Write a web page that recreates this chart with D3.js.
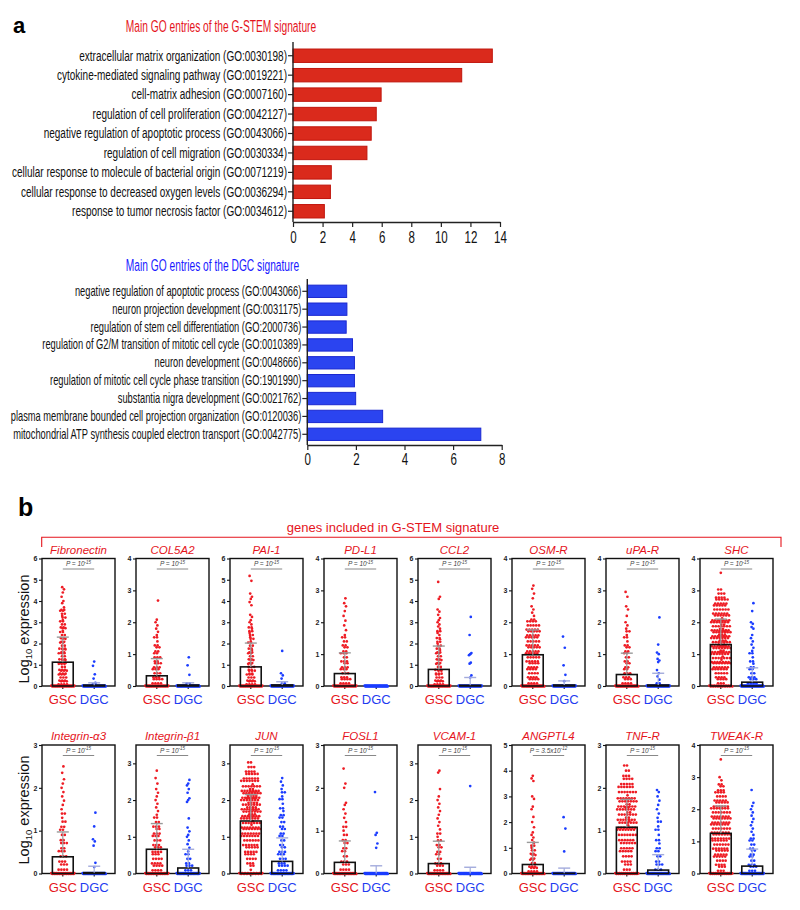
<!DOCTYPE html>
<html><head><meta charset="utf-8">
<script src="https://cdn.jsdelivr.net/npm/d3@7/dist/d3.min.js"></script>
<style>body{margin:0;background:#fff} svg{display:block;font-family:"Liberation Sans",Arial,Helvetica,sans-serif}</style>
</head><body><svg id="c" width="800" height="910"></svg>
<script>
// ---------------- DATA ----------------
const goStemTerms = [
  "extracellular matrix organization (GO:0030198)",
  "cytokine-mediated signaling pathway (GO:0019221)",
  "cell-matrix adhesion (GO:0007160)",
  "regulation of cell proliferation (GO:0042127)",
  "negative regulation of apoptotic process (GO:0043066)",
  "regulation of cell migration (GO:0030334)",
  "cellular response to molecule of bacterial origin (GO:0071219)",
  "cellular response to decreased oxygen levels (GO:0036294)",
  "response to tumor necrosis factor (GO:0034612)"];
const goStemValues = [13.48, 11.41, 5.96, 5.63, 5.29, 5.0, 2.59, 2.53, 2.12];
const goStemTicks = [0, 2, 4, 6, 8, 10, 12, 14];

const goDgcTerms = [
  "negative regulation of apoptotic process (GO:0043066)",
  "neuron projection development (GO:0031175)",
  "regulation of stem cell differentiation (GO:2000736)",
  "regulation of G2/M transition of mitotic cell cycle (GO:0010389)",
  "neuron development (GO:0048666)",
  "regulation of mitotic cell cycle phase transition (GO:1901990)",
  "substantia nigra development (GO:0021762)",
  "plasma membrane bounded cell projection organization (GO:0120036)",
  "mitochondrial ATP synthesis coupled electron transport (GO:0042775)"];
const goDgcValues = [1.62, 1.63, 1.6, 1.86, 1.94, 1.94, 1.99, 3.1, 7.14];
const goDgcTicks = [0, 2, 4, 6, 8];

const genes = ["Fibronectin","COL5A2","PAI-1","PD-L1","CCL2","OSM-R","uPA-R","SHC",
  "Integrin-\u03b13","Integrin-\u03b21","JUN","FOSL1","VCAM-1","ANGPTL4","TNF-R","TWEAK-R"];
const geneYMax = [6,4,6,4,6,4,4,4, 3,3.5,3.5,3,3.5,5,3,4];
const pBase = ["P = 10","P = 10","P = 10","P = 10","P = 10","P = 10","P = 10","P = 10",
  "P = 10","P = 10","P = 10","P = 10","P = 10","P = 3.5x10","P = 10","P = 10"];
const pExp = ["-15","-15","-15","-15","-15","-15","-15","-15","-15","-15","-15","-15","-15","-12","-15","-15"];
const groups = ["GSC","DGC"];

const gscMean = [1.12,0.32,0.90,0.39,0.78,0.98,0.36,1.30, 0.39,0.66,1.43,0.26,0.27,0.35,1.08,1.25];
const gscSD   = [1.18,0.54,1.12,0.65,1.10,0.78,0.67,0.80, 0.58,0.70,0.72,0.50,0.61,0.86,0.65,0.85];
const dgcMean = [0.04,0.03,0.05,0.0,0.03,0.03,0.03,0.12, 0.02,0.15,0.33,0.0,0.0,0.01,0.08,0.23];
const dgcSD   = [0.11,0.07,0.15,0.0,0.37,0.13,0.37,0.45, 0.15,0.51,0.64,0.18,0.17,0.20,0.36,0.53];

// points: [log10 value, number of cells]
const gscPoints = [
  [[0,40],[0.1,4],[0.2,3],[0.3,3],[0.4,3],[0.5,3],[0.6,3],[0.7,3],[0.8,3],[0.9,2],[1.0,3],[1.1,3],[1.2,2],[1.3,3],[1.4,2],[1.5,3],[1.6,2],[1.7,2],[1.8,3],[1.9,2],[2.0,2],[2.1,2],[2.2,2],[2.3,2],[2.4,2],[2.5,2],[2.6,1],[2.7,2],[2.8,2],[2.9,2],[3.0,2],[3.1,1],[3.2,2],[3.3,1],[3.4,2],[3.5,2],[3.6,2],[3.7,1],[3.9,1],[4.0,1],[4.2,1],[4.4,1],[4.55,1],[4.65,1]],
  [[0,40],[0.1,4],[0.2,4],[0.3,3],[0.4,3],[0.5,3],[0.6,3],[0.7,3],[0.8,2],[0.9,3],[1.0,2],[1.1,2],[1.2,2],[1.3,2],[1.4,1],[1.5,2],[1.6,1],[1.7,1],[1.8,1],[1.9,1],[2.0,1],[2.08,1],[2.68,1]],
  [[0,40],[0.1,4],[0.2,3],[0.3,3],[0.4,3],[0.5,3],[0.6,2],[0.7,3],[0.8,2],[0.9,3],[1.0,2],[1.1,2],[1.2,2],[1.3,2],[1.4,2],[1.5,2],[1.6,2],[1.7,1],[1.8,2],[1.9,2],[2.0,2],[2.1,1],[2.2,2],[2.3,1],[2.4,2],[2.5,1],[2.6,2],[2.7,1],[2.8,2],[2.9,1],[3.0,1],[3.1,1],[3.25,1],[3.35,1],[3.8,1],[3.95,1],[4.1,1],[4.2,1],[4.35,1],[4.95,1],[5.18,1]],
  [[0,40],[0.1,4],[0.2,4],[0.3,3],[0.4,3],[0.5,3],[0.6,3],[0.7,2],[0.8,3],[0.9,2],[1.0,3],[1.1,2],[1.2,2],[1.3,2],[1.4,2],[1.5,2],[1.6,1],[1.75,1],[1.9,1],[2.05,1],[2.2,1],[2.35,1],[2.5,1],[2.6,1],[2.75,1]],
  [[0,40],[0.1,4],[0.2,3],[0.3,3],[0.4,3],[0.5,2],[0.6,3],[0.7,2],[0.8,3],[0.9,2],[1.0,2],[1.1,2],[1.2,2],[1.3,2],[1.4,2],[1.5,2],[1.6,2],[1.7,1],[1.8,2],[1.9,2],[2.0,1],[2.1,2],[2.2,1],[2.3,2],[2.4,1],[2.5,1],[2.6,2],[2.7,1],[2.8,1],[2.9,1],[3.0,1],[3.1,1],[3.2,1],[3.35,1],[3.5,1],[3.6,1],[4.1,1],[4.2,1],[4.9,1]],
  [[0,45],[0.1,4],[0.2,4],[0.3,4],[0.4,4],[0.5,4],[0.6,4],[0.7,4],[0.8,5],[0.9,5],[1.0,5],[1.1,5],[1.2,5],[1.3,5],[1.4,5],[1.5,5],[1.6,5],[1.7,5],[1.8,5],[1.9,5],[2.0,4],[2.1,2],[2.2,1],[2.3,1],[2.4,1],[2.5,1],[2.75,1],[2.9,1],[3.05,1],[3.15,1]],
  [[0,45],[0.1,4],[0.2,3],[0.3,3],[0.4,3],[0.5,2],[0.6,2],[0.7,2],[0.8,2],[0.9,2],[1.0,2],[1.1,2],[1.2,2],[1.3,2],[1.4,1],[1.5,2],[1.6,1],[1.7,2],[1.8,1],[1.9,1],[2.0,1],[2.2,1],[2.4,1],[2.5,1],[2.8,1],[2.95,1]],
  [[0,30],[0.1,3],[0.2,4],[0.3,4],[0.4,5],[0.5,6],[0.6,6],[0.7,7],[0.8,8],[0.9,8],[1.0,9],[1.1,9],[1.2,10],[1.3,10],[1.4,10],[1.5,10],[1.6,10],[1.7,10],[1.8,9],[1.9,9],[2.0,9],[2.1,8],[2.2,6],[2.3,6],[2.4,6],[2.5,5],[2.6,5],[2.7,5],[2.8,4],[2.9,3],[3.0,2],[3.55,1]],
  [[0,40],[0.1,4],[0.2,3],[0.3,3],[0.4,3],[0.5,3],[0.6,2],[0.7,3],[0.8,2],[0.9,2],[1.0,2],[1.1,2],[1.2,2],[1.3,1],[1.4,2],[1.5,1],[1.6,1],[1.7,1],[1.8,1],[1.9,1],[2.0,1],[2.1,1],[2.2,1],[2.35,1],[2.5,1]],
  [[0,40],[0.1,4],[0.2,4],[0.3,4],[0.4,4],[0.5,3],[0.6,4],[0.7,3],[0.8,3],[0.9,3],[1.0,3],[1.1,3],[1.2,2],[1.3,3],[1.4,2],[1.5,2],[1.6,1],[1.7,1],[1.8,1],[1.9,1],[2.0,1],[2.1,1],[2.2,1],[2.3,1],[2.45,1],[2.6,1],[2.8,1]],
  [[0,25],[0.1,1],[0.2,2],[0.3,3],[0.4,4],[0.5,4],[0.6,5],[0.7,5],[0.8,6],[0.9,6],[1.0,7],[1.1,7],[1.2,7],[1.3,8],[1.4,8],[1.5,9],[1.6,10],[1.7,10],[1.8,11],[1.9,11],[2.0,11],[2.1,11],[2.2,10],[2.3,9],[2.4,8],[2.5,7],[2.6,6],[2.7,5],[2.8,4],[2.9,3],[3.0,2]],
  [[0,45],[0.1,4],[0.2,3],[0.3,3],[0.4,2],[0.5,2],[0.6,2],[0.7,2],[0.8,2],[0.9,2],[1.0,1],[1.1,2],[1.2,1],[1.3,1],[1.4,1],[1.5,1],[1.6,1],[1.65,1],[2.0,1],[2.1,1],[2.45,1]],
  [[0,45],[0.1,4],[0.2,3],[0.3,3],[0.4,2],[0.5,2],[0.6,2],[0.7,2],[0.8,2],[0.9,2],[1.0,1],[1.1,2],[1.2,1],[1.3,1],[1.4,1],[1.5,1],[1.6,1],[1.7,1],[1.8,1],[1.9,1],[2.0,1],[2.1,1],[2.3,1],[2.75,1],[2.8,1]],
  [[0,45],[0.1,4],[0.2,3],[0.3,3],[0.4,2],[0.5,2],[0.6,2],[0.7,2],[0.8,2],[0.9,2],[1.0,1],[1.1,2],[1.2,1],[1.3,1],[1.4,1],[1.5,1],[1.6,1],[1.8,1],[2.0,1],[2.2,1],[2.5,1],[2.6,1],[2.9,1],[3.0,1],[3.6,1],[3.7,1],[3.8,1]],
  [[0,35],[0.1,3],[0.2,3],[0.3,4],[0.4,4],[0.5,5],[0.6,5],[0.7,6],[0.8,6],[0.9,7],[1.0,7],[1.1,8],[1.2,8],[1.3,9],[1.4,9],[1.5,9],[1.6,9],[1.7,9],[1.8,8],[1.9,7],[2.0,6],[2.1,5],[2.2,4],[2.3,3],[2.4,2],[2.5,2]],
  [[0,35],[0.1,3],[0.2,3],[0.3,4],[0.4,4],[0.5,5],[0.6,5],[0.7,5],[0.8,6],[0.9,6],[1.0,6],[1.1,7],[1.2,7],[1.3,7],[1.4,7],[1.5,7],[1.6,7],[1.7,7],[1.8,7],[1.9,7],[2.0,7],[2.1,6],[2.2,5],[2.3,5],[2.4,4],[2.5,4],[2.6,3],[2.7,2],[2.8,2],[2.9,1],[3.0,1],[3.55,1]]
];
const dgcPoints = [
  [[0,60],[0.1,2],[0.15,1],[0.35,1],[0.55,1],[0.95,1],[1.15,1]],
  [[0,60],[0.1,2],[0.35,1],[0.65,1],[0.9,1]],
  [[0,55],[0.05,3],[0.1,2],[0.35,1],[0.5,1],[0.6,1],[1.65,1]],
  [[0,60]],
  [[0,55],[0.4,1],[0.5,1],[1.05,1],[1.1,1],[1.45,1],[1.5,1],[1.55,1],[2.4,1],[3.25,1]],
  [[0,55],[0.15,1],[0.35,1],[0.65,1],[1.2,1],[1.55,1]],
  [[0,55],[0.1,2],[0.2,1],[0.3,1],[0.4,1],[0.5,1],[0.75,1],[0.8,1],[0.85,1],[1.0,1],[1.05,1],[1.3,1],[2.15,1]],
  [[0,60],[0.1,4],[0.2,3],[0.3,3],[0.4,2],[0.5,2],[0.6,2],[0.7,1],[0.8,2],[0.9,1],[1.0,2],[1.1,1],[1.2,1],[1.3,1],[1.4,1],[1.5,1],[1.6,1],[1.8,1],[1.85,1],[1.95,1],[2.0,1],[2.35,1],[2.6,1]],
  [[0,60],[0.15,1],[0.25,1],[0.65,1],[0.75,1],[0.8,1],[1.1,1],[1.42,1]],
  [[0,50],[0.1,3],[0.2,3],[0.3,2],[0.4,2],[0.5,2],[0.6,1],[0.7,1],[0.8,1],[0.9,1],[1.0,1],[1.05,1],[1.15,1],[1.25,1],[1.5,1],[1.95,1],[2.0,1],[2.05,1],[2.2,1],[2.3,1],[2.4,1],[2.45,1],[2.55,1]],
  [[0,50],[0.1,4],[0.2,4],[0.3,3],[0.4,3],[0.5,3],[0.6,3],[0.7,2],[0.8,2],[0.9,2],[1.0,2],[1.1,2],[1.2,2],[1.3,2],[1.4,2],[1.5,2],[1.6,2],[1.7,1],[1.8,2],[1.9,1],[2.0,2],[2.1,1],[2.2,2],[2.3,1],[2.4,1],[2.5,1],[2.6,1]],
  [[0,60],[0.6,1],[0.7,1],[0.9,1],[0.95,1],[1.9,1]],
  [[0,60],[2.38,1]],
  [[0,60],[0.86,1],[1.75,1],[2.19,1]],
  [[0,60],[0.1,3],[0.2,3],[0.3,2],[0.4,2],[0.5,2],[0.6,2],[0.7,1],[0.8,2],[0.9,1],[1.0,2],[1.1,1],[1.2,2],[1.3,1],[1.4,1],[1.5,1],[1.6,1],[1.7,1],[1.8,1],[1.9,1],[1.95,1]],
  [[0,55],[0.1,3],[0.2,3],[0.3,3],[0.4,2],[0.5,2],[0.6,2],[0.7,2],[0.8,2],[0.9,2],[1.0,2],[1.1,2],[1.2,1],[1.3,1],[1.4,1],[1.5,1],[1.6,1],[1.7,1],[1.8,1],[1.9,1],[2.0,1],[2.1,1],[2.2,1],[2.6,1]]
];

// ---------------- DRAWING ----------------
const svg = d3.select("#c");
const RED_T = "#e5141c", BLUE_T = "#1a1aff";

svg.append("text").attr("x", 13).attr("y", 33).attr("font-size", 22).attr("font-weight", "bold").text("a");

function goChart(terms, values, ticks, o) {
  const g = svg.append("g");
  const x = d3.scaleLinear([0, ticks[ticks.length - 1]], [o.x0, o.x1]);
  const y = d3.scaleBand(terms, [o.y0, o.y1]).paddingInner(0.31).paddingOuter(0.31);
  g.append("g").attr("transform", `translate(${o.titleX},${o.titleY}) scale(0.62,1)`)
    .append("text").attr("text-anchor", "middle").attr("font-size", 16.5).attr("fill", o.titleColor).text(o.title);
  g.selectAll("rect.bar").data(values).join("rect").attr("class", "bar")
    .attr("x", x(0)).attr("y", (d, i) => y(terms[i]))
    .attr("width", d => x(d) - x(0)).attr("height", y.bandwidth())
    .attr("fill", o.fill).attr("stroke", o.stroke).attr("stroke-width", 1);
  const ya = d3.axisLeft(y).tickSize(5).tickPadding(1).tickSizeOuter(0);
  const yg = g.append("g").attr("transform", `translate(${x(0)},0)`).call(ya);
  yg.select(".domain").remove();
  yg.selectAll(".tick line").attr("stroke", "#222").attr("stroke-width", 1.2);
  yg.selectAll(".tick text").attr("font-size", o.labelSize).attr("fill", "#111").attr("font-family", null)
    .attr("transform", `scale(${o.cond},1)`).attr("x", -6 / o.cond);
  g.append("line").attr("x1", x(0)).attr("x2", x(0)).attr("y1", o.axisTop).attr("y2", o.axisY)
    .attr("stroke", "#222").attr("stroke-width", 1.4);
  const xa = d3.axisBottom(x).tickValues(ticks).tickSize(5).tickPadding(o.tickPad).tickSizeOuter(0);
  const xg = g.append("g").attr("transform", `translate(0,${o.axisY})`).call(xa);
  xg.select(".domain").attr("stroke", "#222").attr("stroke-width", 1.4);
  xg.selectAll(".tick line").attr("stroke", "#222").attr("stroke-width", 1.2);
  xg.selectAll(".tick text").attr("font-size", 16.5).attr("fill", "#111").attr("font-family", null)
    .attr("transform", "scale(0.7,1)");
}

goChart(goStemTerms, goStemValues, goStemTicks, {
  x0: 293, x1: 500, y0: 43, y1: 224, axisTop: 42, axisY: 222, tickPad: 4,
  labelSize: 15, cond: 0.667,
  fill: "#da2a1c", stroke: "#c0150c", title: "Main GO entries of the G-STEM signature",
  titleX: 221, titleY: 32, titleColor: RED_T });
goChart(goDgcTerms, goDgcValues, goDgcTicks, {
  x0: 307.3, x1: 501.7, y0: 279.6, y1: 446, axisTop: 279, axisY: 445, tickPad: 3,
  labelSize: 14.1, cond: 0.66,
  fill: "#2b44f0", stroke: "#1a28d0", title: "Main GO entries of the DGC signature",
  titleX: 212.5, titleY: 271, titleColor: BLUE_T });

// ---------------- panel b ----------------
svg.append("text").attr("x", 18).attr("y", 516).attr("font-size", 25).attr("font-weight", "bold").text("b");
svg.append("path").attr("d", "M41.7,547 V537.3 H781 V547").attr("fill", "none").attr("stroke", RED_T).attr("stroke-width", 1.1);
svg.append("text").attr("x", 393).attr("y", 532).attr("text-anchor", "middle").attr("font-size", 13)
  .attr("fill", RED_T).text("genes included in G-STEM signature");

const rowTop = [558.5, 745], rowBottom = [686, 873.5];
const panelW = 73, panelStep = 94, panelLeft0 = 42;
const PT_RED = "#ee1c24", PT_BLUE = "#1b3dff";

[0, 1].forEach(r => {
  const cy = r === 0 ? 629 : 810;
  const t = svg.append("text").attr("transform", `translate(29,${cy}) rotate(-90)`)
    .attr("text-anchor", "middle").attr("font-size", 14.5).attr("fill", "#111");
  t.append("tspan").text("Log");
  t.append("tspan").attr("font-size", 9.5).attr("dy", 3).text("10");
  t.append("tspan").attr("dy", -3).text(" expression");
});

function layoutPoints(series, cx, y) {
  const pts = [];
  series.forEach(([v, n], bi) => {
    if (v === 0) {
      const hw = 11.5;
      for (let k = 0; k < n; k++) pts.push([cx - hw + (n === 1 ? hw : 2 * hw * k / (n - 1)), y(0) + ((k % 3) - 1) * 0.5]);
      return;
    }
    const cap = 7, rows = Math.ceil(n / cap);
    let idx = 0;
    const shift = (((bi * 7) % 5) - 2) * 0.6;
    for (let rr = 0; rr < rows; rr++) {
      const c = Math.min(cap, n - idx);
      const vv = n === 1 ? v : v - 0.05 + (rr + 0.5) / rows * 0.1;
      for (let k = 0; k < c; k++) {
        const dy = c === 1 ? 0 : (((k * 5 + bi * 3) % 5) - 2) * 0.45;
        pts.push([cx + (k - (c - 1) / 2) * 2.8 + shift + (rr % 2 ? 1.3 : 0), y(vv) + dy]);
      }
      idx += c;
    }
  });
  return pts;
}

genes.forEach((gene, i) => {
  const row = Math.floor(i / 8), col = i % 8;
  const left = panelLeft0 + col * panelStep;
  const top = rowTop[row], bottom = rowBottom[row];
  const y = d3.scaleLinear([0, geneYMax[i]], [bottom, top]);
  const x = d3.scaleBand(groups, [left, left + panelW]).paddingInner(0.337).paddingOuter(0.331);
  const bw = x.bandwidth();
  const cxs = groups.map(g => x(g) + bw / 2);
  const g = svg.append("g");

  g.append("text").attr("x", left + panelW / 2).attr("y", top - 5).attr("text-anchor", "middle")
    .attr("font-size", 11.5).attr("font-style", "italic").attr("fill", RED_T).text(gene);
  g.append("rect").attr("x", left).attr("y", top).attr("width", panelW).attr("height", bottom - top)
    .attr("fill", "none").attr("stroke", "#111").attr("stroke-width", 1.4);
  const yt = d3.range(0, Math.floor(geneYMax[i]) + 1);
  const ya = d3.axisLeft(y).tickValues(yt).tickSize(3).tickPadding(1.5).tickFormat(d3.format("d")).tickSizeOuter(0);
  const yg = g.append("g").attr("transform", `translate(${left},0)`).call(ya);
  yg.select(".domain").remove();
  yg.selectAll(".tick line").attr("stroke", "#111").attr("stroke-width", 1.1);
  yg.selectAll(".tick text").attr("font-size", 7).attr("font-weight", "bold").attr("fill", "#222").attr("font-family", null);
  const xa = d3.axisBottom(x).tickSize(3).tickFormat("").tickSizeOuter(0);
  const xg = g.append("g").attr("transform", `translate(0,${bottom})`).call(xa);
  xg.select(".domain").remove();
  xg.selectAll(".tick line").attr("stroke", "#111").attr("stroke-width", 1.1);

  const sets = [gscPoints[i], dgcPoints[i]];
  const cols = [PT_RED, PT_BLUE];
  sets.forEach((s, gi) => {
    const pts = layoutPoints(s, cxs[gi], y);
    g.append("g").selectAll("circle").data(pts).join("circle")
      .attr("cx", d => d[0]).attr("cy", d => d[1]).attr("r", 1.35).attr("fill", cols[gi]);
  });

  const means = [gscMean[i], dgcMean[i]], sds = [gscSD[i], dgcSD[i]];
  groups.forEach((gname, gi) => {
    if (means[gi] > 0.005) {
      g.append("rect").attr("x", x(gname)).attr("y", y(means[gi])).attr("width", bw)
        .attr("height", y(0) - y(means[gi])).attr("fill", "none").attr("stroke", "#111").attr("stroke-width", 1.6);
    }
    if (sds[gi] > 0.005) {
      const sc = gi === 0 ? "#9a9a9a" : "#a3abdc";
      const yt2 = y(means[gi] + sds[gi]);
      g.append("line").attr("x1", cxs[gi]).attr("x2", cxs[gi]).attr("y1", y(means[gi])).attr("y2", yt2)
        .attr("stroke", sc).attr("stroke-width", 1.2);
      g.append("line").attr("x1", cxs[gi] - 6).attr("x2", cxs[gi] + 6).attr("y1", yt2).attr("y2", yt2)
        .attr("stroke", sc).attr("stroke-width", 1.4);
    }
  });

  const pt = g.append("text").attr("x", (cxs[0] + cxs[1]) / 2).attr("y", top + 7.5).attr("text-anchor", "middle")
    .attr("font-size", 6.5).attr("font-style", "italic").attr("fill", "#444");
  pt.append("tspan").text(pBase[i]);
  pt.append("tspan").attr("font-size", 4.5).attr("dy", -2.5).text(pExp[i]);
  g.append("line").attr("x1", cxs[0]).attr("x2", cxs[1]).attr("y1", top + 10.5).attr("y2", top + 10.5)
    .attr("stroke", "#888").attr("stroke-width", 1);

  groups.forEach((gname, gi) => {
    g.append("text").attr("x", cxs[gi]).attr("y", bottom + 18).attr("text-anchor", "middle")
      .attr("font-size", 13).attr("fill", gi === 0 ? RED_T : "#1f3cf0").text(gname);
  });
});
</script></body></html>
